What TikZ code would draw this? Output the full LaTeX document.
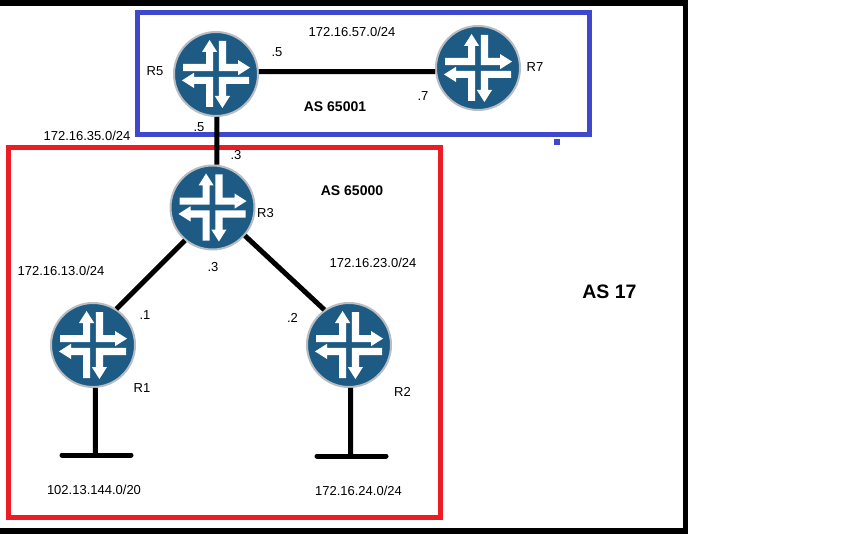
\documentclass[tikz,border=0pt]{standalone}
\usepackage{fontspec}
\setmainfont{Liberation Sans}
\definecolor{rblue}{HTML}{1D5B85}
\definecolor{rring}{HTML}{B9BDC2}
\definecolor{asblue}{HTML}{3F48CC}
\definecolor{asred}{HTML}{ED1C24}
\tikzset{
  quarter/.pic={\fill[white] (-33,-10) -- (-10,-10) -- (-10,-22) -- (-14,-22) -- (-6.4,-34) -- (1.2,-22) -- (-2.8,-22) -- (-2.8,-2.8) -- (-33,-2.8) -- cycle;},
  router/.style={circle,inner sep=0pt,minimum size=84pt,draw=rring,line width=2pt,fill=rblue,
    path picture={
      \begin{scope}[shift={(path picture bounding box.center)}]
        \foreach \a in {0,90,180,270}{\pic[rotate=\a] {quarter};}
      \end{scope}}},
  link/.style={line width=5pt,black},
  box/.style={line width=5pt,line join=miter},
  lbl/.style={font=\fontsize{13}{15}\selectfont,text=black,inner sep=0pt},
  aslbl/.style={font=\fontsize{14}{16}\bfseries\selectfont,text=black,inner sep=0pt},
}
\begin{document}
\begin{tikzpicture}[x=1pt,y=-1pt]
\useasboundingbox (0,0) rectangle (864,540);
\fill[white] (0,0) rectangle (864,540);
\draw[line width=5.5pt,black] (0,3) -- (685.5,3) -- (685.5,531) -- (0,531);
\draw[box,asblue] (137.5,12.5) rectangle (589.5,134.5);
\fill[asblue] (554,139) rectangle (560,145);
\draw[box,asred] (8.5,147.5) rectangle (440.5,517.5);
\node[router] (R5) at (216,74) {};
\node[router] (R7) at (478,68) {};
\node[router] (R3) at (212.5,207.5) {};
\node[router] (R1) at (93,345) {};
\node[router] (R2) at (349,345) {};
\coordinate (t1) at (95.5,455);
\coordinate (t1l) at (62,455);
\coordinate (t1r) at (131,455);
\coordinate (t2) at (350.5,456);
\coordinate (t2l) at (317,456);
\coordinate (t2r) at (386,456);
\draw[link] (R5.3) -- (R7.185);
\draw[link] (R5.-89) -- (R3.84);
\draw[link] (R3.230) -- (R1.57);
\draw[link] (R3.-41) -- (R2.125);
\draw[link] (R1.-87) -- (t1);
\draw[link] (R2.-88) -- (t2);
\draw[link,line cap=round] (t1l) -- (t1r);
\draw[link,line cap=round] (t2l) -- (t2r);
\node[lbl] (n1) at (352,32) {172.16.57.0/24};
\node[lbl] (n2) at (277,52) {.5};
\node[lbl] (n3) at (155,71) {R5};
\node[lbl] (n4) at (423,96) {.7};
\node[lbl] (n5) at (535,67) {R7};
\node[aslbl] (n6) at (335,107) {AS 65001};
\node[lbl] (n7) at (87,136) {172.16.35.0/24};
\node[lbl] (n8) at (199,127) {.5};
\node[lbl] (n9) at (236,155) {.3};
\node[aslbl] (n10) at (352,191) {AS 65000};
\node[lbl] (n11) at (265.5,213) {R3};
\node[lbl] (n12) at (61,271) {172.16.13.0/24};
\node[lbl] (n13) at (373,263) {172.16.23.0/24};
\node[lbl] (n14) at (213,267) {.3};
\node[lbl] (n15) at (145,315) {.1};
\node[lbl] (n16) at (292.5,318) {.2};
\node[lbl] (n17) at (142,388) {R1};
\node[lbl] (n18) at (402.5,391.5) {R2};
\node[lbl] (n19) at (94,490) {102.13.144.0/20};
\node[lbl] (n20) at (358.5,490.5) {172.16.24.0/24};
\node[font=\fontsize{19.5}{22}\bfseries\selectfont,text=black,inner sep=0pt] (n21) at (609.5,292) {AS 17};
\end{tikzpicture}
\end{document}
